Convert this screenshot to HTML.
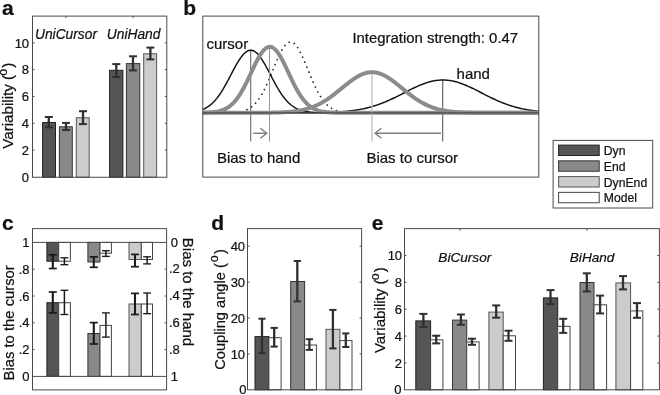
<!DOCTYPE html>
<html><head><meta charset="utf-8"><title>Figure</title>
<style>html,body{margin:0;padding:0;background:#fff;overflow:hidden;}svg{display:block;}text{stroke:#111;stroke-width:0.22px;}</style>
</head><body>
<svg width="660" height="395" viewBox="0 0 660 395" font-family='"Liberation Sans", sans-serif'>
<rect width="660" height="395" fill="#ffffff"/>
<text x="2.00" y="14.60" font-size="21" text-anchor="start" font-weight="bold" font-style="normal" fill="#111" >a</text>
<text x="183.30" y="14.70" font-size="21" text-anchor="start" font-weight="bold" font-style="normal" fill="#111" >b</text>
<text x="2.00" y="230.30" font-size="21" text-anchor="start" font-weight="bold" font-style="normal" fill="#111" >c</text>
<text x="211.20" y="230.30" font-size="21" text-anchor="start" font-weight="bold" font-style="normal" fill="#111" >d</text>
<text x="371.70" y="230.30" font-size="21" text-anchor="start" font-weight="bold" font-style="normal" fill="#111" >e</text>
<rect x="42.60" y="122.50" width="12.90" height="54.75" fill="#555555" stroke="#202020" stroke-width="1.0"/>
<rect x="59.40" y="126.80" width="12.90" height="50.45" fill="#898989" stroke="#343434" stroke-width="1.0"/>
<rect x="76.30" y="117.80" width="12.90" height="59.45" fill="#cccccc" stroke="#555555" stroke-width="1.0"/>
<rect x="109.60" y="70.30" width="13.30" height="106.95" fill="#555555" stroke="#202020" stroke-width="1.0"/>
<rect x="126.40" y="63.60" width="13.40" height="113.65" fill="#898989" stroke="#343434" stroke-width="1.0"/>
<rect x="143.70" y="53.80" width="12.90" height="123.45" fill="#cccccc" stroke="#555555" stroke-width="1.0"/>
<line x1="48.80" y1="117.00" x2="48.80" y2="127.30" stroke="#303030" stroke-width="2.3" />
<line x1="44.80" y1="117.00" x2="52.80" y2="117.00" stroke="#303030" stroke-width="2.001" />
<line x1="44.80" y1="127.30" x2="52.80" y2="127.30" stroke="#303030" stroke-width="2.001" />
<line x1="66.00" y1="122.90" x2="66.00" y2="130.00" stroke="#303030" stroke-width="2.3" />
<line x1="62.00" y1="122.90" x2="70.00" y2="122.90" stroke="#303030" stroke-width="2.001" />
<line x1="62.00" y1="130.00" x2="70.00" y2="130.00" stroke="#303030" stroke-width="2.001" />
<line x1="83.00" y1="111.20" x2="83.00" y2="124.10" stroke="#303030" stroke-width="2.3" />
<line x1="79.00" y1="111.20" x2="87.00" y2="111.20" stroke="#303030" stroke-width="2.001" />
<line x1="79.00" y1="124.10" x2="87.00" y2="124.10" stroke="#303030" stroke-width="2.001" />
<line x1="116.30" y1="64.10" x2="116.30" y2="77.00" stroke="#303030" stroke-width="2.3" />
<line x1="112.30" y1="64.10" x2="120.30" y2="64.10" stroke="#303030" stroke-width="2.001" />
<line x1="112.30" y1="77.00" x2="120.30" y2="77.00" stroke="#303030" stroke-width="2.001" />
<line x1="133.00" y1="56.30" x2="133.00" y2="70.40" stroke="#303030" stroke-width="2.3" />
<line x1="129.00" y1="56.30" x2="137.00" y2="56.30" stroke="#303030" stroke-width="2.001" />
<line x1="129.00" y1="70.40" x2="137.00" y2="70.40" stroke="#303030" stroke-width="2.001" />
<line x1="150.40" y1="47.60" x2="150.40" y2="59.40" stroke="#303030" stroke-width="2.3" />
<line x1="146.40" y1="47.60" x2="154.40" y2="47.60" stroke="#303030" stroke-width="2.001" />
<line x1="146.40" y1="59.40" x2="154.40" y2="59.40" stroke="#303030" stroke-width="2.001" />
<rect x="32.50" y="16.10" width="134.30" height="161.15" fill="none" stroke="#4a4a4a" stroke-width="1"/>
<text x="29.10" y="181.55" font-size="13.0" text-anchor="end" font-weight="normal" font-style="normal" fill="#111" >0</text>
<line x1="32.50" y1="150.05" x2="34.50" y2="150.05" stroke="#4a4a4a" stroke-width="1" />
<line x1="164.80" y1="150.05" x2="166.80" y2="150.05" stroke="#4a4a4a" stroke-width="1" />
<text x="29.10" y="154.75" font-size="13.0" text-anchor="end" font-weight="normal" font-style="normal" fill="#111" >2</text>
<line x1="32.50" y1="123.25" x2="34.50" y2="123.25" stroke="#4a4a4a" stroke-width="1" />
<line x1="164.80" y1="123.25" x2="166.80" y2="123.25" stroke="#4a4a4a" stroke-width="1" />
<text x="29.10" y="127.95" font-size="13.0" text-anchor="end" font-weight="normal" font-style="normal" fill="#111" >4</text>
<line x1="32.50" y1="96.45" x2="34.50" y2="96.45" stroke="#4a4a4a" stroke-width="1" />
<line x1="164.80" y1="96.45" x2="166.80" y2="96.45" stroke="#4a4a4a" stroke-width="1" />
<text x="29.10" y="101.15" font-size="13.0" text-anchor="end" font-weight="normal" font-style="normal" fill="#111" >6</text>
<line x1="32.50" y1="69.65" x2="34.50" y2="69.65" stroke="#4a4a4a" stroke-width="1" />
<line x1="164.80" y1="69.65" x2="166.80" y2="69.65" stroke="#4a4a4a" stroke-width="1" />
<text x="29.10" y="74.35" font-size="13.0" text-anchor="end" font-weight="normal" font-style="normal" fill="#111" >8</text>
<line x1="32.50" y1="42.85" x2="34.50" y2="42.85" stroke="#4a4a4a" stroke-width="1" />
<line x1="164.80" y1="42.85" x2="166.80" y2="42.85" stroke="#4a4a4a" stroke-width="1" />
<text x="29.10" y="47.55" font-size="13.0" text-anchor="end" font-weight="normal" font-style="normal" fill="#111" >10</text>
<line x1="65.90" y1="16.10" x2="65.90" y2="18.10" stroke="#4a4a4a" stroke-width="1" />
<line x1="133.10" y1="16.10" x2="133.10" y2="18.10" stroke="#4a4a4a" stroke-width="1" />
<text x="66.00" y="38.50" font-size="13.8" text-anchor="middle" font-weight="normal" font-style="italic" fill="#111" >UniCursor</text>
<text x="133.60" y="38.50" font-size="13.8" text-anchor="middle" font-weight="normal" font-style="italic" fill="#111" >UniHand</text>
<text x="13.40" y="148.70" font-size="15.15" text-anchor="start" fill="#111" transform="rotate(-90 13.40 148.70)">Variability (<tspan font-size="12.5" dy="-6.6" dx="-0.8">o</tspan><tspan dy="6.6" dx="1.0">)</tspan></text>
<line x1="250.70" y1="50.20" x2="250.70" y2="141.60" stroke="#6a6a6a" stroke-width="1.1" />
<line x1="442.70" y1="80.00" x2="442.70" y2="141.60" stroke="#5a5a5a" stroke-width="1.1" />
<polyline points="247.0,109.58 247.5,109.34 248.0,109.09 248.5,108.83 249.0,108.55 249.5,108.25 250.0,107.94 250.5,107.61 251.0,107.26 251.5,106.89 252.0,106.50 252.5,106.10 253.0,105.67 253.5,105.23 254.0,104.76 254.5,104.27 255.0,103.75 255.5,103.22 256.0,102.66 256.5,102.08 257.0,101.47 257.5,100.84 258.0,100.18 258.5,99.50 259.0,98.79 259.5,98.06 260.0,97.30 260.5,96.51 261.0,95.70 261.5,94.86 262.0,94.00 262.5,93.11 263.0,92.20 263.5,91.27 264.0,90.30 264.5,89.32 265.0,88.31 265.5,87.28 266.0,86.23 266.5,85.15 267.0,84.06 267.5,82.95 268.0,81.82 268.5,80.67 269.0,79.51 269.5,78.34 270.0,77.15 270.5,75.95 271.0,74.74 271.5,73.53 272.0,72.31 272.5,71.08 273.0,69.86 273.5,68.63 274.0,67.41 274.5,66.19 275.0,64.97 275.5,63.77 276.0,62.57 276.5,61.39 277.0,60.22 277.5,59.07 278.0,57.94 278.5,56.83 279.0,55.75 279.5,54.69 280.0,53.66 280.5,52.66 281.0,51.70 281.5,50.77 282.0,49.88 282.5,49.02 283.0,48.21 283.5,47.44 284.0,46.72 284.5,46.04 285.0,45.41 285.5,44.83 286.0,44.30 286.5,43.83 287.0,43.40 287.5,43.03 288.0,42.72 288.5,42.46 289.0,42.26 289.5,42.12 290.0,42.03 290.5,42.00 291.0,42.03 291.5,42.12 292.0,42.26 292.5,42.46 293.0,42.72 293.5,43.03 294.0,43.40 294.5,43.83 295.0,44.30 295.5,44.83 296.0,45.41 296.5,46.04 297.0,46.72 297.5,47.44 298.0,48.21 298.5,49.02 299.0,49.88 299.5,50.77 300.0,51.70 300.5,52.66 301.0,53.66 301.5,54.69 302.0,55.75 302.5,56.83 303.0,57.94 303.5,59.07 304.0,60.22 304.5,61.39 305.0,62.57 305.5,63.77 306.0,64.97 306.5,66.19 307.0,67.41 307.5,68.63 308.0,69.86 308.5,71.08 309.0,72.31 309.5,73.53 310.0,74.74 310.5,75.95 311.0,77.15 311.5,78.34 312.0,79.51 312.5,80.67 313.0,81.82 313.5,82.95 314.0,84.06 314.5,85.15 315.0,86.23 315.5,87.28 316.0,88.31 316.5,89.32 317.0,90.30 317.5,91.27 318.0,92.20 318.5,93.11 319.0,94.00 319.5,94.86 320.0,95.70 320.5,96.51 321.0,97.30 321.5,98.06 322.0,98.79 322.5,99.50 323.0,100.18 323.5,100.84 324.0,101.47 324.5,102.08 325.0,102.66 325.5,103.22 326.0,103.75 326.5,104.27 327.0,104.76 327.5,105.23 328.0,105.67 328.5,106.10 329.0,106.50 329.5,106.89 330.0,107.26 330.5,107.61 331.0,107.94 331.5,108.25 332.0,108.55 332.5,108.83 333.0,109.09 333.5,109.34 334.0,109.58 334.5,109.80 335.0,110.01 335.5,110.20 336.0,110.39 336.5,110.56 337.0,110.73 337.5,110.88 338.0,111.02" fill="none" stroke="#222" stroke-width="1.7" stroke-linecap="round" stroke-dasharray="0.01 5.4"/>
<polyline points="202.8,109.44 203.8,109.01 204.8,108.54 205.8,108.01 206.8,107.44 207.8,106.81 208.8,106.13 209.8,105.39 210.8,104.58 211.8,103.71 212.8,102.78 213.8,101.77 214.8,100.70 215.8,99.56 216.8,98.34 217.8,97.06 218.8,95.70 219.8,94.28 220.8,92.78 221.8,91.22 222.8,89.60 223.8,87.92 224.8,86.19 225.8,84.41 226.8,82.59 227.8,80.73 228.8,78.84 229.8,76.94 230.8,75.02 231.8,73.11 232.8,71.20 233.8,69.31 234.8,67.45 235.8,65.64 236.8,63.87 237.8,62.17 238.8,60.54 239.8,59.00 240.8,57.56 241.8,56.22 242.8,54.99 243.8,53.89 244.8,52.92 245.8,52.09 246.8,51.40 247.8,50.87 248.8,50.49 249.8,50.26 250.8,50.20 251.8,50.30 252.8,50.55 253.8,50.96 254.8,51.53 255.8,52.24 256.8,53.10 257.8,54.10 258.8,55.23 259.8,56.47 260.8,57.84 261.8,59.30 262.8,60.86 263.8,62.51 264.8,64.22 265.8,66.00 266.8,67.82 267.8,69.69 268.8,71.58 269.8,73.49 270.8,75.41 271.8,77.32 272.8,79.22 273.8,81.10 274.8,82.96 275.8,84.77 276.8,86.54 277.8,88.26 278.8,89.93 279.8,91.54 280.8,93.09 281.8,94.57 282.8,95.98 283.8,97.32 284.8,98.59 285.8,99.79 286.8,100.92 287.8,101.98 288.8,102.97 289.8,103.89 290.8,104.75 291.8,105.54 292.8,106.27 293.8,106.94 294.8,107.56 295.8,108.12 296.8,108.64 297.8,109.10 298.8,109.53 299.8,109.91 300.8,110.25 301.8,110.56 302.8,110.84 303.8,111.08 304.8,111.30 305.8,111.50 306.8,111.67 307.8,111.82 308.8,111.96 309.8,112.07 310.8,112.17 311.8,112.26 312.8,112.34 313.8,112.41 314.8,112.47 315.8,112.52 316.8,112.56 317.8,112.60 318.8,112.63 319.8,112.66 320.8,112.68 321.8,112.70 322.8,112.72 323.8,112.73 324.8,112.74 325.8,112.75 326.8,112.76 327.8,112.77 328.8,112.77 329.8,112.78 330.8,112.78 331.8,112.79 332.8,112.79 333.8,112.79 334.8,112.79 335.8,112.79 336.8,112.80 337.8,112.80 338.8,112.80 339.8,112.80 340.8,112.80 341.8,112.80 342.8,112.80 343.8,112.80 344.8,112.80 345.8,112.80 346.8,112.80 347.8,112.80 348.8,112.80 349.8,112.80 350.8,112.80 351.8,112.80 352.8,112.80 353.8,112.80 354.8,112.80 355.8,112.80 356.8,112.80 357.8,112.80 358.8,112.80 359.8,112.80 360.8,112.80 361.8,112.80 362.8,112.80 363.8,112.80 364.8,112.80 365.8,112.80 366.8,112.80 367.8,112.80 368.8,112.80 369.8,112.80 370.8,112.80 371.8,112.80 372.8,112.80 373.8,112.80 374.8,112.80 375.8,112.80 376.8,112.80 377.8,112.80 378.8,112.80 379.8,112.80 380.8,112.80 381.8,112.80 382.8,112.80 383.8,112.80 384.8,112.80 385.8,112.80 386.8,112.80 387.8,112.80 388.8,112.80 389.8,112.80 390.8,112.80 391.8,112.80 392.8,112.80 393.8,112.80 394.8,112.80 395.8,112.80 396.8,112.80 397.8,112.80 398.8,112.80 399.8,112.80 400.8,112.80 401.8,112.80 402.8,112.80 403.8,112.80 404.8,112.80 405.8,112.80 406.8,112.80 407.8,112.80 408.8,112.80 409.8,112.80 410.8,112.80 411.8,112.80 412.8,112.80 413.8,112.80 414.8,112.80 415.8,112.80 416.8,112.80 417.8,112.80 418.8,112.80 419.8,112.80 420.8,112.80 421.8,112.80 422.8,112.80 423.8,112.80 424.8,112.80 425.8,112.80 426.8,112.80 427.8,112.80 428.8,112.80 429.8,112.80 430.8,112.80 431.8,112.80 432.8,112.80 433.8,112.80 434.8,112.80 435.8,112.80 436.8,112.80 437.8,112.80 438.8,112.80 439.8,112.80 440.8,112.80 441.8,112.80 442.8,112.80 443.8,112.80 444.8,112.80 445.8,112.80 446.8,112.80 447.8,112.80 448.8,112.80 449.8,112.80 450.8,112.80 451.8,112.80 452.8,112.80 453.8,112.80 454.8,112.80 455.8,112.80 456.8,112.80 457.8,112.80 458.8,112.80 459.8,112.80 460.8,112.80 461.8,112.80 462.8,112.80 463.8,112.80 464.8,112.80 465.8,112.80 466.8,112.80 467.8,112.80 468.8,112.80 469.8,112.80 470.8,112.80 471.8,112.80 472.8,112.80 473.8,112.80 474.8,112.80 475.8,112.80 476.8,112.80 477.8,112.80 478.8,112.80 479.8,112.80 480.8,112.80 481.8,112.80 482.8,112.80 483.8,112.80 484.8,112.80 485.8,112.80 486.8,112.80 487.8,112.80 488.8,112.80 489.8,112.80 490.8,112.80 491.8,112.80 492.8,112.80 493.8,112.80 494.8,112.80 495.8,112.80 496.8,112.80 497.8,112.80 498.8,112.80 499.8,112.80 500.8,112.80 501.8,112.80 502.8,112.80 503.8,112.80 504.8,112.80 505.8,112.80 506.8,112.80 507.8,112.80 508.8,112.80 509.8,112.80 510.8,112.80 511.8,112.80 512.8,112.80 513.8,112.80 514.8,112.80 515.8,112.80 516.8,112.80 517.8,112.80 518.8,112.80 519.8,112.80 520.8,112.80 521.8,112.80 522.8,112.80 523.8,112.80 524.8,112.80 525.8,112.80 526.8,112.80 527.8,112.80 528.8,112.80 529.8,112.80 530.8,112.80 531.8,112.80 532.8,112.80 533.8,112.80 534.8,112.80 535.8,112.80 536.8,112.80 537.8,112.80 538.8,112.80" fill="none" stroke="#111" stroke-width="1.45"/>
<polyline points="202.8,112.80 203.8,112.80 204.8,112.80 205.8,112.80 206.8,112.80 207.8,112.80 208.8,112.80 209.8,112.80 210.8,112.80 211.8,112.80 212.8,112.80 213.8,112.80 214.8,112.80 215.8,112.80 216.8,112.80 217.8,112.80 218.8,112.80 219.8,112.80 220.8,112.80 221.8,112.80 222.8,112.80 223.8,112.80 224.8,112.80 225.8,112.80 226.8,112.80 227.8,112.80 228.8,112.80 229.8,112.80 230.8,112.80 231.8,112.80 232.8,112.80 233.8,112.80 234.8,112.80 235.8,112.80 236.8,112.80 237.8,112.80 238.8,112.80 239.8,112.80 240.8,112.80 241.8,112.80 242.8,112.80 243.8,112.80 244.8,112.80 245.8,112.80 246.8,112.80 247.8,112.80 248.8,112.80 249.8,112.80 250.8,112.80 251.8,112.80 252.8,112.80 253.8,112.80 254.8,112.80 255.8,112.80 256.8,112.80 257.8,112.80 258.8,112.80 259.8,112.80 260.8,112.80 261.8,112.80 262.8,112.80 263.8,112.80 264.8,112.80 265.8,112.80 266.8,112.80 267.8,112.80 268.8,112.80 269.8,112.80 270.8,112.80 271.8,112.80 272.8,112.80 273.8,112.80 274.8,112.80 275.8,112.80 276.8,112.80 277.8,112.80 278.8,112.80 279.8,112.80 280.8,112.79 281.8,112.79 282.8,112.79 283.8,112.79 284.8,112.79 285.8,112.79 286.8,112.79 287.8,112.79 288.8,112.79 289.8,112.79 290.8,112.78 291.8,112.78 292.8,112.78 293.8,112.78 294.8,112.78 295.8,112.77 296.8,112.77 297.8,112.77 298.8,112.77 299.8,112.76 300.8,112.76 301.8,112.76 302.8,112.75 303.8,112.75 304.8,112.74 305.8,112.74 306.8,112.73 307.8,112.72 308.8,112.72 309.8,112.71 310.8,112.70 311.8,112.69 312.8,112.68 313.8,112.67 314.8,112.66 315.8,112.65 316.8,112.63 317.8,112.62 318.8,112.60 319.8,112.58 320.8,112.57 321.8,112.55 322.8,112.53 323.8,112.50 324.8,112.48 325.8,112.45 326.8,112.42 327.8,112.39 328.8,112.36 329.8,112.33 330.8,112.29 331.8,112.25 332.8,112.21 333.8,112.17 334.8,112.12 335.8,112.07 336.8,112.01 337.8,111.96 338.8,111.90 339.8,111.83 340.8,111.76 341.8,111.69 342.8,111.62 343.8,111.53 344.8,111.45 345.8,111.36 346.8,111.26 347.8,111.16 348.8,111.06 349.8,110.95 350.8,110.83 351.8,110.70 352.8,110.57 353.8,110.44 354.8,110.29 355.8,110.14 356.8,109.99 357.8,109.82 358.8,109.65 359.8,109.47 360.8,109.28 361.8,109.09 362.8,108.89 363.8,108.67 364.8,108.45 365.8,108.22 366.8,107.98 367.8,107.74 368.8,107.48 369.8,107.21 370.8,106.94 371.8,106.65 372.8,106.36 373.8,106.05 374.8,105.74 375.8,105.41 376.8,105.08 377.8,104.74 378.8,104.38 379.8,104.02 380.8,103.65 381.8,103.27 382.8,102.88 383.8,102.48 384.8,102.07 385.8,101.65 386.8,101.22 387.8,100.79 388.8,100.35 389.8,99.90 390.8,99.44 391.8,98.97 392.8,98.50 393.8,98.02 394.8,97.54 395.8,97.05 396.8,96.56 397.8,96.06 398.8,95.56 399.8,95.05 400.8,94.54 401.8,94.03 402.8,93.52 403.8,93.01 404.8,92.50 405.8,91.98 406.8,91.47 407.8,90.96 408.8,90.46 409.8,89.95 410.8,89.46 411.8,88.96 412.8,88.47 413.8,87.99 414.8,87.52 415.8,87.05 416.8,86.60 417.8,86.15 418.8,85.71 419.8,85.28 420.8,84.87 421.8,84.47 422.8,84.08 423.8,83.71 424.8,83.35 425.8,83.00 426.8,82.67 427.8,82.36 428.8,82.07 429.8,81.79 430.8,81.53 431.8,81.29 432.8,81.07 433.8,80.87 434.8,80.69 435.8,80.53 436.8,80.39 437.8,80.27 438.8,80.17 439.8,80.10 440.8,80.04 441.8,80.01 442.8,80.00 443.8,80.01 444.8,80.04 445.8,80.10 446.8,80.17 447.8,80.27 448.8,80.39 449.8,80.53 450.8,80.69 451.8,80.87 452.8,81.07 453.8,81.29 454.8,81.53 455.8,81.79 456.8,82.07 457.8,82.36 458.8,82.67 459.8,83.00 460.8,83.35 461.8,83.71 462.8,84.08 463.8,84.47 464.8,84.87 465.8,85.28 466.8,85.71 467.8,86.15 468.8,86.60 469.8,87.05 470.8,87.52 471.8,87.99 472.8,88.47 473.8,88.96 474.8,89.46 475.8,89.95 476.8,90.46 477.8,90.96 478.8,91.47 479.8,91.98 480.8,92.50 481.8,93.01 482.8,93.52 483.8,94.03 484.8,94.54 485.8,95.05 486.8,95.56 487.8,96.06 488.8,96.56 489.8,97.05 490.8,97.54 491.8,98.02 492.8,98.50 493.8,98.97 494.8,99.44 495.8,99.90 496.8,100.35 497.8,100.79 498.8,101.22 499.8,101.65 500.8,102.07 501.8,102.48 502.8,102.88 503.8,103.27 504.8,103.65 505.8,104.02 506.8,104.38 507.8,104.74 508.8,105.08 509.8,105.41 510.8,105.74 511.8,106.05 512.8,106.36 513.8,106.65 514.8,106.94 515.8,107.21 516.8,107.48 517.8,107.74 518.8,107.98 519.8,108.22 520.8,108.45 521.8,108.67 522.8,108.89 523.8,109.09 524.8,109.28 525.8,109.47 526.8,109.65 527.8,109.82 528.8,109.99 529.8,110.14 530.8,110.29 531.8,110.44 532.8,110.57 533.8,110.70 534.8,110.83 535.8,110.95 536.8,111.06 537.8,111.16 538.8,111.26" fill="none" stroke="#111" stroke-width="1.45"/>
<polyline points="202.8,112.69 203.8,112.67 204.8,112.64 205.8,112.61 206.8,112.57 207.8,112.53 208.8,112.48 209.8,112.42 210.8,112.35 211.8,112.26 212.8,112.17 213.8,112.05 214.8,111.93 215.8,111.78 216.8,111.61 217.8,111.42 218.8,111.20 219.8,110.95 220.8,110.67 221.8,110.35 222.8,110.00 223.8,109.60 224.8,109.15 225.8,108.66 226.8,108.11 227.8,107.50 228.8,106.83 229.8,106.10 230.8,105.30 231.8,104.43 232.8,103.48 233.8,102.45 234.8,101.35 235.8,100.16 236.8,98.89 237.8,97.54 238.8,96.10 239.8,94.57 240.8,92.97 241.8,91.29 242.8,89.53 243.8,87.69 244.8,85.80 245.8,83.84 246.8,81.82 247.8,79.76 248.8,77.67 249.8,75.55 250.8,73.41 251.8,71.27 252.8,69.14 253.8,67.03 254.8,64.96 255.8,62.93 256.8,60.97 257.8,59.08 258.8,57.29 259.8,55.59 260.8,54.02 261.8,52.57 262.8,51.27 263.8,50.11 264.8,49.12 265.8,48.29 266.8,47.64 267.8,47.18 268.8,46.89 269.8,46.80 270.8,46.89 271.8,47.18 272.8,47.64 273.8,48.29 274.8,49.12 275.8,50.11 276.8,51.27 277.8,52.57 278.8,54.02 279.8,55.59 280.8,57.29 281.8,59.08 282.8,60.97 283.8,62.93 284.8,64.96 285.8,67.03 286.8,69.14 287.8,71.27 288.8,73.41 289.8,75.55 290.8,77.67 291.8,79.76 292.8,81.82 293.8,83.84 294.8,85.80 295.8,87.69 296.8,89.53 297.8,91.29 298.8,92.97 299.8,94.57 300.8,96.10 301.8,97.54 302.8,98.89 303.8,100.16 304.8,101.35 305.8,102.45 306.8,103.48 307.8,104.43 308.8,105.30 309.8,106.10 310.8,106.83 311.8,107.50 312.8,108.11 313.8,108.66 314.8,109.15 315.8,109.60 316.8,110.00 317.8,110.35 318.8,110.67 319.8,110.95 320.8,111.20 321.8,111.42 322.8,111.61 323.8,111.78 324.8,111.93 325.8,112.05 326.8,112.17 327.8,112.26 328.8,112.35 329.8,112.42 330.8,112.48 331.8,112.53 332.8,112.57 333.8,112.61 334.8,112.64 335.8,112.67 336.8,112.69 337.8,112.71 338.8,112.73 339.8,112.74 340.8,112.75 341.8,112.76 342.8,112.77 343.8,112.77 344.8,112.78 345.8,112.78 346.8,112.79 347.8,112.79 348.8,112.79 349.8,112.79 350.8,112.79 351.8,112.80 352.8,112.80 353.8,112.80 354.8,112.80 355.8,112.80 356.8,112.80 357.8,112.80 358.8,112.80 359.8,112.80 360.8,112.80 361.8,112.80 362.8,112.80 363.8,112.80 364.8,112.80 365.8,112.80 366.8,112.80 367.8,112.80 368.8,112.80 369.8,112.80 370.8,112.80 371.8,112.80 372.8,112.80 373.8,112.80 374.8,112.80 375.8,112.80 376.8,112.80 377.8,112.80 378.8,112.80 379.8,112.80 380.8,112.80 381.8,112.80 382.8,112.80 383.8,112.80 384.8,112.80 385.8,112.80 386.8,112.80 387.8,112.80 388.8,112.80 389.8,112.80 390.8,112.80 391.8,112.80 392.8,112.80 393.8,112.80 394.8,112.80 395.8,112.80 396.8,112.80 397.8,112.80 398.8,112.80 399.8,112.80 400.8,112.80 401.8,112.80 402.8,112.80 403.8,112.80 404.8,112.80 405.8,112.80 406.8,112.80 407.8,112.80 408.8,112.80 409.8,112.80 410.8,112.80 411.8,112.80 412.8,112.80 413.8,112.80 414.8,112.80 415.8,112.80 416.8,112.80 417.8,112.80 418.8,112.80 419.8,112.80 420.8,112.80 421.8,112.80 422.8,112.80 423.8,112.80 424.8,112.80 425.8,112.80 426.8,112.80 427.8,112.80 428.8,112.80 429.8,112.80 430.8,112.80 431.8,112.80 432.8,112.80 433.8,112.80 434.8,112.80 435.8,112.80 436.8,112.80 437.8,112.80 438.8,112.80 439.8,112.80 440.8,112.80 441.8,112.80 442.8,112.80 443.8,112.80 444.8,112.80 445.8,112.80 446.8,112.80 447.8,112.80 448.8,112.80 449.8,112.80 450.8,112.80 451.8,112.80 452.8,112.80 453.8,112.80 454.8,112.80 455.8,112.80 456.8,112.80 457.8,112.80 458.8,112.80 459.8,112.80 460.8,112.80 461.8,112.80 462.8,112.80 463.8,112.80 464.8,112.80 465.8,112.80 466.8,112.80 467.8,112.80 468.8,112.80 469.8,112.80 470.8,112.80 471.8,112.80 472.8,112.80 473.8,112.80 474.8,112.80 475.8,112.80 476.8,112.80 477.8,112.80 478.8,112.80 479.8,112.80 480.8,112.80 481.8,112.80 482.8,112.80 483.8,112.80 484.8,112.80 485.8,112.80 486.8,112.80 487.8,112.80 488.8,112.80 489.8,112.80 490.8,112.80 491.8,112.80 492.8,112.80 493.8,112.80 494.8,112.80 495.8,112.80 496.8,112.80 497.8,112.80 498.8,112.80 499.8,112.80 500.8,112.80 501.8,112.80 502.8,112.80 503.8,112.80 504.8,112.80 505.8,112.80 506.8,112.80 507.8,112.80 508.8,112.80 509.8,112.80 510.8,112.80 511.8,112.80 512.8,112.80 513.8,112.80 514.8,112.80 515.8,112.80 516.8,112.80 517.8,112.80 518.8,112.80 519.8,112.80 520.8,112.80 521.8,112.80 522.8,112.80 523.8,112.80 524.8,112.80 525.8,112.80 526.8,112.80 527.8,112.80 528.8,112.80 529.8,112.80 530.8,112.80 531.8,112.80 532.8,112.80 533.8,112.80 534.8,112.80 535.8,112.80 536.8,112.80 537.8,112.80 538.8,112.80" fill="none" stroke="#8c8c8c" stroke-width="4"/>
<polyline points="202.8,112.80 203.8,112.80 204.8,112.80 205.8,112.80 206.8,112.80 207.8,112.80 208.8,112.80 209.8,112.80 210.8,112.80 211.8,112.80 212.8,112.80 213.8,112.80 214.8,112.80 215.8,112.80 216.8,112.80 217.8,112.80 218.8,112.80 219.8,112.80 220.8,112.80 221.8,112.80 222.8,112.80 223.8,112.80 224.8,112.80 225.8,112.80 226.8,112.80 227.8,112.80 228.8,112.80 229.8,112.80 230.8,112.80 231.8,112.80 232.8,112.80 233.8,112.80 234.8,112.80 235.8,112.80 236.8,112.80 237.8,112.80 238.8,112.80 239.8,112.80 240.8,112.80 241.8,112.80 242.8,112.80 243.8,112.80 244.8,112.79 245.8,112.79 246.8,112.79 247.8,112.79 248.8,112.79 249.8,112.79 250.8,112.79 251.8,112.79 252.8,112.78 253.8,112.78 254.8,112.78 255.8,112.78 256.8,112.77 257.8,112.77 258.8,112.77 259.8,112.76 260.8,112.76 261.8,112.75 262.8,112.74 263.8,112.74 264.8,112.73 265.8,112.72 266.8,112.71 267.8,112.70 268.8,112.68 269.8,112.67 270.8,112.66 271.8,112.64 272.8,112.62 273.8,112.60 274.8,112.58 275.8,112.55 276.8,112.52 277.8,112.49 278.8,112.46 279.8,112.42 280.8,112.38 281.8,112.34 282.8,112.29 283.8,112.24 284.8,112.18 285.8,112.12 286.8,112.05 287.8,111.98 288.8,111.90 289.8,111.82 290.8,111.72 291.8,111.62 292.8,111.51 293.8,111.40 294.8,111.27 295.8,111.14 296.8,110.99 297.8,110.84 298.8,110.67 299.8,110.50 300.8,110.31 301.8,110.10 302.8,109.89 303.8,109.66 304.8,109.42 305.8,109.16 306.8,108.88 307.8,108.60 308.8,108.29 309.8,107.97 310.8,107.63 311.8,107.27 312.8,106.89 313.8,106.50 314.8,106.08 315.8,105.65 316.8,105.20 317.8,104.73 318.8,104.23 319.8,103.72 320.8,103.19 321.8,102.64 322.8,102.07 323.8,101.48 324.8,100.86 325.8,100.23 326.8,99.59 327.8,98.92 328.8,98.24 329.8,97.53 330.8,96.82 331.8,96.08 332.8,95.34 333.8,94.58 334.8,93.81 335.8,93.02 336.8,92.23 337.8,91.43 338.8,90.62 339.8,89.81 340.8,88.99 341.8,88.17 342.8,87.36 343.8,86.54 344.8,85.73 345.8,84.92 346.8,84.12 347.8,83.33 348.8,82.56 349.8,81.79 350.8,81.04 351.8,80.31 352.8,79.60 353.8,78.92 354.8,78.25 355.8,77.61 356.8,77.00 357.8,76.42 358.8,75.87 359.8,75.35 360.8,74.87 361.8,74.42 362.8,74.01 363.8,73.64 364.8,73.31 365.8,73.03 366.8,72.78 367.8,72.57 368.8,72.41 369.8,72.30 370.8,72.23 371.8,72.20 372.8,72.22 373.8,72.28 374.8,72.39 375.8,72.54 376.8,72.73 377.8,72.97 378.8,73.25 379.8,73.57 380.8,73.94 381.8,74.34 382.8,74.78 383.8,75.25 384.8,75.76 385.8,76.31 386.8,76.88 387.8,77.49 388.8,78.12 389.8,78.78 390.8,79.46 391.8,80.17 392.8,80.90 393.8,81.64 394.8,82.40 395.8,83.18 396.8,83.96 397.8,84.76 398.8,85.57 399.8,86.38 400.8,87.19 401.8,88.01 402.8,88.83 403.8,89.65 404.8,90.46 405.8,91.27 406.8,92.07 407.8,92.86 408.8,93.65 409.8,94.42 410.8,95.19 411.8,95.94 412.8,96.67 413.8,97.39 414.8,98.10 415.8,98.78 416.8,99.45 417.8,100.11 418.8,100.74 419.8,101.36 420.8,101.95 421.8,102.53 422.8,103.08 423.8,103.62 424.8,104.13 425.8,104.63 426.8,105.11 427.8,105.56 428.8,106.00 429.8,106.42 430.8,106.82 431.8,107.20 432.8,107.56 433.8,107.90 434.8,108.23 435.8,108.54 436.8,108.83 437.8,109.10 438.8,109.37 439.8,109.61 440.8,109.84 441.8,110.06 442.8,110.27 443.8,110.46 444.8,110.64 445.8,110.81 446.8,110.96 447.8,111.11 448.8,111.25 449.8,111.37 450.8,111.49 451.8,111.60 452.8,111.70 453.8,111.80 454.8,111.89 455.8,111.97 456.8,112.04 457.8,112.11 458.8,112.17 459.8,112.23 460.8,112.28 461.8,112.33 462.8,112.38 463.8,112.42 464.8,112.45 465.8,112.49 466.8,112.52 467.8,112.55 468.8,112.57 469.8,112.60 470.8,112.62 471.8,112.64 472.8,112.65 473.8,112.67 474.8,112.68 475.8,112.69 476.8,112.71 477.8,112.72 478.8,112.73 479.8,112.73 480.8,112.74 481.8,112.75 482.8,112.75 483.8,112.76 484.8,112.76 485.8,112.77 486.8,112.77 487.8,112.78 488.8,112.78 489.8,112.78 490.8,112.78 491.8,112.79 492.8,112.79 493.8,112.79 494.8,112.79 495.8,112.79 496.8,112.79 497.8,112.79 498.8,112.79 499.8,112.80 500.8,112.80 501.8,112.80 502.8,112.80 503.8,112.80 504.8,112.80 505.8,112.80 506.8,112.80 507.8,112.80 508.8,112.80 509.8,112.80 510.8,112.80 511.8,112.80 512.8,112.80 513.8,112.80 514.8,112.80 515.8,112.80 516.8,112.80 517.8,112.80 518.8,112.80 519.8,112.80 520.8,112.80 521.8,112.80 522.8,112.80 523.8,112.80 524.8,112.80 525.8,112.80 526.8,112.80 527.8,112.80 528.8,112.80 529.8,112.80 530.8,112.80 531.8,112.80 532.8,112.80 533.8,112.80 534.8,112.80 535.8,112.80 536.8,112.80 537.8,112.80 538.8,112.80" fill="none" stroke="#8c8c8c" stroke-width="4"/>
<line x1="269.50" y1="48.90" x2="269.50" y2="141.60" stroke="#959595" stroke-width="1" />
<line x1="371.90" y1="74.30" x2="371.90" y2="141.60" stroke="#bcbcbc" stroke-width="1.3" />
<line x1="202.80" y1="112.80" x2="538.80" y2="112.80" stroke="#4a4a4a" stroke-width="1.2" />
<rect x="202.80" y="16.10" width="336.00" height="161.00" fill="none" stroke="#4a4a4a" stroke-width="1"/>
<line x1="253.00" y1="133.25" x2="266.60" y2="133.25" stroke="#7c7c7c" stroke-width="1.4" />
<polyline points="260.3,128.2 266.8,133.25 260.3,138.3" fill="none" stroke="#7c7c7c" stroke-width="1.4"/>
<line x1="375.40" y1="133.25" x2="441.00" y2="133.25" stroke="#7c7c7c" stroke-width="1.4" />
<polyline points="381.4,128.2 375.1,133.25 381.4,138.3" fill="none" stroke="#7c7c7c" stroke-width="1.4"/>
<text x="206.50" y="49.00" font-size="15.0" text-anchor="start" font-weight="normal" font-style="normal" fill="#111" >cursor</text>
<text x="352.40" y="42.70" font-size="14.92" text-anchor="start" font-weight="normal" font-style="normal" fill="#111" >Integration strength: 0.47</text>
<text x="456.60" y="79.30" font-size="15.0" text-anchor="start" font-weight="normal" font-style="normal" fill="#111" >hand</text>
<text x="216.90" y="162.90" font-size="15.0" text-anchor="start" font-weight="normal" font-style="normal" fill="#111" >Bias to hand</text>
<text x="366.40" y="162.90" font-size="15.0" text-anchor="start" font-weight="normal" font-style="normal" fill="#111" >Bias to cursor</text>
<rect x="553.10" y="140.40" width="99.60" height="67.60" fill="none" stroke="#4a4a4a" stroke-width="1"/>
<rect x="558.60" y="145.10" width="40.60" height="10.40" fill="#555555" stroke="#202020" stroke-width="1.0"/>
<text x="603.80" y="155.20" font-size="12.2" text-anchor="start" font-weight="normal" font-style="normal" fill="#111" >Dyn</text>
<rect x="558.60" y="160.85" width="40.60" height="10.40" fill="#898989" stroke="#343434" stroke-width="1.0"/>
<text x="603.80" y="170.95" font-size="12.2" text-anchor="start" font-weight="normal" font-style="normal" fill="#111" >End</text>
<rect x="558.60" y="176.60" width="40.60" height="10.40" fill="#cccccc" stroke="#555555" stroke-width="1.0"/>
<text x="603.80" y="186.70" font-size="12.2" text-anchor="start" font-weight="normal" font-style="normal" fill="#111" >DynEnd</text>
<rect x="558.60" y="192.35" width="40.60" height="10.40" fill="#ffffff" stroke="#444444" stroke-width="1.0"/>
<text x="603.80" y="202.45" font-size="12.2" text-anchor="start" font-weight="normal" font-style="normal" fill="#111" >Model</text>
<rect x="46.90" y="242.40" width="11.80" height="18.80" fill="#555555" stroke="#202020" stroke-width="1.0"/>
<rect x="58.70" y="242.40" width="11.70" height="18.80" fill="#ffffff" stroke="#444444" stroke-width="1.0"/>
<rect x="87.90" y="242.40" width="12.10" height="19.60" fill="#898989" stroke="#343434" stroke-width="1.0"/>
<rect x="100.00" y="242.40" width="11.40" height="10.80" fill="#ffffff" stroke="#444444" stroke-width="1.0"/>
<rect x="129.00" y="242.40" width="12.30" height="17.10" fill="#cccccc" stroke="#555555" stroke-width="1.0"/>
<rect x="141.30" y="242.40" width="11.20" height="17.10" fill="#ffffff" stroke="#444444" stroke-width="1.0"/>
<rect x="46.90" y="302.70" width="11.80" height="73.70" fill="#555555" stroke="#202020" stroke-width="1.0"/>
<rect x="58.70" y="302.70" width="11.70" height="73.70" fill="#ffffff" stroke="#444444" stroke-width="1.0"/>
<rect x="87.90" y="333.50" width="12.10" height="42.90" fill="#898989" stroke="#343434" stroke-width="1.0"/>
<rect x="100.00" y="325.40" width="11.40" height="51.00" fill="#ffffff" stroke="#444444" stroke-width="1.0"/>
<rect x="129.00" y="304.00" width="12.30" height="72.40" fill="#cccccc" stroke="#555555" stroke-width="1.0"/>
<rect x="141.30" y="304.00" width="11.20" height="72.40" fill="#ffffff" stroke="#444444" stroke-width="1.0"/>
<line x1="52.80" y1="254.80" x2="52.80" y2="268.50" stroke="#1a1a1a" stroke-width="2.1" />
<line x1="48.80" y1="254.80" x2="56.80" y2="254.80" stroke="#1a1a1a" stroke-width="1.7" />
<line x1="48.80" y1="268.50" x2="56.80" y2="268.50" stroke="#1a1a1a" stroke-width="1.7" />
<line x1="64.40" y1="257.80" x2="64.40" y2="264.70" stroke="#1a1a1a" stroke-width="1.5" />
<line x1="60.50" y1="257.80" x2="68.30" y2="257.80" stroke="#1a1a1a" stroke-width="1.35" />
<line x1="60.50" y1="264.70" x2="68.30" y2="264.70" stroke="#1a1a1a" stroke-width="1.35" />
<line x1="93.80" y1="256.80" x2="93.80" y2="267.30" stroke="#1a1a1a" stroke-width="2.1" />
<line x1="89.80" y1="256.80" x2="97.80" y2="256.80" stroke="#1a1a1a" stroke-width="1.7" />
<line x1="89.80" y1="267.30" x2="97.80" y2="267.30" stroke="#1a1a1a" stroke-width="1.7" />
<line x1="105.90" y1="250.70" x2="105.90" y2="256.40" stroke="#1a1a1a" stroke-width="1.5" />
<line x1="102.00" y1="250.70" x2="109.80" y2="250.70" stroke="#1a1a1a" stroke-width="1.35" />
<line x1="102.00" y1="256.40" x2="109.80" y2="256.40" stroke="#1a1a1a" stroke-width="1.35" />
<line x1="135.00" y1="254.40" x2="135.00" y2="266.70" stroke="#1a1a1a" stroke-width="2.1" />
<line x1="131.00" y1="254.40" x2="139.00" y2="254.40" stroke="#1a1a1a" stroke-width="1.7" />
<line x1="131.00" y1="266.70" x2="139.00" y2="266.70" stroke="#1a1a1a" stroke-width="1.7" />
<line x1="147.10" y1="256.80" x2="147.10" y2="263.90" stroke="#1a1a1a" stroke-width="1.5" />
<line x1="143.20" y1="256.80" x2="151.00" y2="256.80" stroke="#1a1a1a" stroke-width="1.35" />
<line x1="143.20" y1="263.90" x2="151.00" y2="263.90" stroke="#1a1a1a" stroke-width="1.35" />
<line x1="52.80" y1="292.00" x2="52.80" y2="312.90" stroke="#1a1a1a" stroke-width="2.1" />
<line x1="48.80" y1="292.00" x2="56.80" y2="292.00" stroke="#1a1a1a" stroke-width="1.7" />
<line x1="48.80" y1="312.90" x2="56.80" y2="312.90" stroke="#1a1a1a" stroke-width="1.7" />
<line x1="64.40" y1="290.30" x2="64.40" y2="314.50" stroke="#1a1a1a" stroke-width="1.5" />
<line x1="60.50" y1="290.30" x2="68.30" y2="290.30" stroke="#1a1a1a" stroke-width="1.35" />
<line x1="60.50" y1="314.50" x2="68.30" y2="314.50" stroke="#1a1a1a" stroke-width="1.35" />
<line x1="93.80" y1="322.60" x2="93.80" y2="344.00" stroke="#1a1a1a" stroke-width="2.1" />
<line x1="89.80" y1="322.60" x2="97.80" y2="322.60" stroke="#1a1a1a" stroke-width="1.7" />
<line x1="89.80" y1="344.00" x2="97.80" y2="344.00" stroke="#1a1a1a" stroke-width="1.7" />
<line x1="105.90" y1="312.90" x2="105.90" y2="337.10" stroke="#1a1a1a" stroke-width="1.5" />
<line x1="102.00" y1="312.90" x2="109.80" y2="312.90" stroke="#1a1a1a" stroke-width="1.35" />
<line x1="102.00" y1="337.10" x2="109.80" y2="337.10" stroke="#1a1a1a" stroke-width="1.35" />
<line x1="135.00" y1="293.40" x2="135.00" y2="314.50" stroke="#1a1a1a" stroke-width="2.1" />
<line x1="131.00" y1="293.40" x2="139.00" y2="293.40" stroke="#1a1a1a" stroke-width="1.7" />
<line x1="131.00" y1="314.50" x2="139.00" y2="314.50" stroke="#1a1a1a" stroke-width="1.7" />
<line x1="147.10" y1="293.00" x2="147.10" y2="313.70" stroke="#1a1a1a" stroke-width="1.5" />
<line x1="143.20" y1="293.00" x2="151.00" y2="293.00" stroke="#1a1a1a" stroke-width="1.35" />
<line x1="143.20" y1="313.70" x2="151.00" y2="313.70" stroke="#1a1a1a" stroke-width="1.35" />
<line x1="32.50" y1="242.40" x2="166.60" y2="242.40" stroke="#4a4a4a" stroke-width="1" />
<line x1="32.50" y1="376.40" x2="166.60" y2="376.40" stroke="#4a4a4a" stroke-width="1" />
<rect x="32.50" y="228.60" width="134.10" height="161.30" fill="none" stroke="#4a4a4a" stroke-width="1"/>
<text x="29.50" y="381.00" font-size="13.0" text-anchor="end" font-weight="normal" font-style="normal" fill="#111" >0</text>
<text x="174.30" y="380.60" font-size="13.0" text-anchor="middle" font-weight="normal" font-style="normal" fill="#111" >1</text>
<line x1="32.50" y1="349.60" x2="34.50" y2="349.60" stroke="#4a4a4a" stroke-width="1" />
<line x1="164.60" y1="349.60" x2="166.60" y2="349.60" stroke="#4a4a4a" stroke-width="1" />
<text x="29.50" y="354.20" font-size="13.0" text-anchor="end" font-weight="normal" font-style="normal" fill="#111" >.2</text>
<text x="174.30" y="353.80" font-size="13.0" text-anchor="middle" font-weight="normal" font-style="normal" fill="#111" >.8</text>
<line x1="32.50" y1="322.80" x2="34.50" y2="322.80" stroke="#4a4a4a" stroke-width="1" />
<line x1="164.60" y1="322.80" x2="166.60" y2="322.80" stroke="#4a4a4a" stroke-width="1" />
<text x="29.50" y="327.40" font-size="13.0" text-anchor="end" font-weight="normal" font-style="normal" fill="#111" >.4</text>
<text x="174.30" y="327.00" font-size="13.0" text-anchor="middle" font-weight="normal" font-style="normal" fill="#111" >.6</text>
<line x1="32.50" y1="296.00" x2="34.50" y2="296.00" stroke="#4a4a4a" stroke-width="1" />
<line x1="164.60" y1="296.00" x2="166.60" y2="296.00" stroke="#4a4a4a" stroke-width="1" />
<text x="29.50" y="300.60" font-size="13.0" text-anchor="end" font-weight="normal" font-style="normal" fill="#111" >.6</text>
<text x="174.30" y="300.20" font-size="13.0" text-anchor="middle" font-weight="normal" font-style="normal" fill="#111" >.4</text>
<line x1="32.50" y1="269.20" x2="34.50" y2="269.20" stroke="#4a4a4a" stroke-width="1" />
<line x1="164.60" y1="269.20" x2="166.60" y2="269.20" stroke="#4a4a4a" stroke-width="1" />
<text x="29.50" y="273.80" font-size="13.0" text-anchor="end" font-weight="normal" font-style="normal" fill="#111" >.8</text>
<text x="174.30" y="273.40" font-size="13.0" text-anchor="middle" font-weight="normal" font-style="normal" fill="#111" >.2</text>
<text x="29.50" y="247.00" font-size="13.0" text-anchor="end" font-weight="normal" font-style="normal" fill="#111" >1</text>
<text x="174.30" y="246.60" font-size="13.0" text-anchor="middle" font-weight="normal" font-style="normal" fill="#111" >0</text>
<text x="14.00" y="380.40" font-size="14.8" text-anchor="start" font-weight="normal" font-style="normal" fill="#111" transform="rotate(-90 14.00 380.40)" >Bias to the cursor</text>
<text x="183.00" y="237.80" font-size="15.0" text-anchor="start" font-weight="normal" font-style="normal" fill="#111" transform="rotate(90 183.00 237.80)" >Bias to the hand</text>
<rect x="255.00" y="336.60" width="13.90" height="53.20" fill="#555555" stroke="#202020" stroke-width="1.0"/>
<rect x="268.90" y="337.70" width="12.20" height="52.10" fill="#ffffff" stroke="#444444" stroke-width="1.0"/>
<rect x="290.70" y="281.50" width="13.90" height="108.30" fill="#898989" stroke="#343434" stroke-width="1.0"/>
<rect x="304.60" y="345.00" width="11.80" height="44.80" fill="#ffffff" stroke="#444444" stroke-width="1.0"/>
<rect x="326.00" y="329.30" width="13.90" height="60.50" fill="#cccccc" stroke="#555555" stroke-width="1.0"/>
<rect x="339.90" y="340.60" width="12.10" height="49.20" fill="#ffffff" stroke="#444444" stroke-width="1.0"/>
<line x1="262.00" y1="318.70" x2="262.00" y2="353.20" stroke="#303030" stroke-width="2.3" />
<line x1="258.40" y1="318.70" x2="265.60" y2="318.70" stroke="#303030" stroke-width="2.001" />
<line x1="258.40" y1="353.20" x2="265.60" y2="353.20" stroke="#303030" stroke-width="2.001" />
<line x1="274.20" y1="327.90" x2="274.20" y2="346.60" stroke="#303030" stroke-width="2.3" />
<line x1="270.60" y1="327.90" x2="277.80" y2="327.90" stroke="#303030" stroke-width="2.001" />
<line x1="270.60" y1="346.60" x2="277.80" y2="346.60" stroke="#303030" stroke-width="2.001" />
<line x1="297.30" y1="261.00" x2="297.30" y2="301.40" stroke="#303030" stroke-width="2.3" />
<line x1="293.70" y1="261.00" x2="300.90" y2="261.00" stroke="#303030" stroke-width="2.001" />
<line x1="293.70" y1="301.40" x2="300.90" y2="301.40" stroke="#303030" stroke-width="2.001" />
<line x1="309.40" y1="339.20" x2="309.40" y2="349.90" stroke="#303030" stroke-width="2.3" />
<line x1="305.80" y1="339.20" x2="313.00" y2="339.20" stroke="#303030" stroke-width="2.001" />
<line x1="305.80" y1="349.90" x2="313.00" y2="349.90" stroke="#303030" stroke-width="2.001" />
<line x1="332.90" y1="309.90" x2="332.90" y2="348.40" stroke="#303030" stroke-width="2.3" />
<line x1="329.30" y1="309.90" x2="336.50" y2="309.90" stroke="#303030" stroke-width="2.001" />
<line x1="329.30" y1="348.40" x2="336.50" y2="348.40" stroke="#303030" stroke-width="2.001" />
<line x1="345.80" y1="333.40" x2="345.80" y2="347.00" stroke="#303030" stroke-width="2.3" />
<line x1="342.20" y1="333.40" x2="349.40" y2="333.40" stroke="#303030" stroke-width="2.001" />
<line x1="342.20" y1="347.00" x2="349.40" y2="347.00" stroke="#303030" stroke-width="2.001" />
<rect x="247.50" y="228.60" width="114.10" height="161.20" fill="none" stroke="#4a4a4a" stroke-width="1"/>
<text x="246.40" y="394.30" font-size="13.0" text-anchor="end" font-weight="normal" font-style="normal" fill="#111" >0</text>
<line x1="247.50" y1="353.90" x2="249.50" y2="353.90" stroke="#4a4a4a" stroke-width="1" />
<line x1="359.60" y1="353.90" x2="361.60" y2="353.90" stroke="#4a4a4a" stroke-width="1" />
<text x="245.10" y="358.60" font-size="13.0" text-anchor="end" font-weight="normal" font-style="normal" fill="#111" >10</text>
<line x1="247.50" y1="318.00" x2="249.50" y2="318.00" stroke="#4a4a4a" stroke-width="1" />
<line x1="359.60" y1="318.00" x2="361.60" y2="318.00" stroke="#4a4a4a" stroke-width="1" />
<text x="245.10" y="322.70" font-size="13.0" text-anchor="end" font-weight="normal" font-style="normal" fill="#111" >20</text>
<line x1="247.50" y1="282.10" x2="249.50" y2="282.10" stroke="#4a4a4a" stroke-width="1" />
<line x1="359.60" y1="282.10" x2="361.60" y2="282.10" stroke="#4a4a4a" stroke-width="1" />
<text x="245.10" y="286.80" font-size="13.0" text-anchor="end" font-weight="normal" font-style="normal" fill="#111" >30</text>
<line x1="247.50" y1="246.20" x2="249.50" y2="246.20" stroke="#4a4a4a" stroke-width="1" />
<line x1="359.60" y1="246.20" x2="361.60" y2="246.20" stroke="#4a4a4a" stroke-width="1" />
<text x="245.10" y="250.90" font-size="13.0" text-anchor="end" font-weight="normal" font-style="normal" fill="#111" >40</text>
<text x="224.60" y="369.80" font-size="14.65" text-anchor="start" fill="#111" transform="rotate(-90 224.60 369.80)">Coupling angle (<tspan font-size="12.5" dy="-6.4" dx="1.0">o</tspan><tspan dy="6.4" dx="1.25">)</tspan></text>
<rect x="415.80" y="320.90" width="14.80" height="68.90" fill="#555555" stroke="#202020" stroke-width="1.0"/>
<rect x="430.60" y="339.80" width="12.30" height="50.00" fill="#ffffff" stroke="#444444" stroke-width="1.0"/>
<rect x="452.50" y="320.10" width="14.20" height="69.70" fill="#898989" stroke="#343434" stroke-width="1.0"/>
<rect x="466.70" y="341.90" width="12.40" height="47.90" fill="#ffffff" stroke="#444444" stroke-width="1.0"/>
<rect x="488.90" y="312.10" width="14.30" height="77.70" fill="#cccccc" stroke="#555555" stroke-width="1.0"/>
<rect x="503.20" y="335.80" width="12.30" height="54.00" fill="#ffffff" stroke="#444444" stroke-width="1.0"/>
<rect x="543.40" y="297.90" width="14.30" height="91.90" fill="#555555" stroke="#202020" stroke-width="1.0"/>
<rect x="557.70" y="326.30" width="12.30" height="63.50" fill="#ffffff" stroke="#444444" stroke-width="1.0"/>
<rect x="580.00" y="282.50" width="14.00" height="107.30" fill="#898989" stroke="#343434" stroke-width="1.0"/>
<rect x="594.00" y="304.80" width="12.60" height="85.00" fill="#ffffff" stroke="#444444" stroke-width="1.0"/>
<rect x="615.90" y="282.90" width="14.70" height="106.90" fill="#cccccc" stroke="#555555" stroke-width="1.0"/>
<rect x="630.60" y="310.90" width="12.20" height="78.90" fill="#ffffff" stroke="#444444" stroke-width="1.0"/>
<line x1="423.40" y1="313.90" x2="423.40" y2="327.20" stroke="#303030" stroke-width="2.3" />
<line x1="419.40" y1="313.90" x2="427.40" y2="313.90" stroke="#303030" stroke-width="2.001" />
<line x1="419.40" y1="327.20" x2="427.40" y2="327.20" stroke="#303030" stroke-width="2.001" />
<line x1="436.20" y1="335.70" x2="436.20" y2="343.40" stroke="#303030" stroke-width="2.3" />
<line x1="432.20" y1="335.70" x2="440.20" y2="335.70" stroke="#303030" stroke-width="2.001" />
<line x1="432.20" y1="343.40" x2="440.20" y2="343.40" stroke="#303030" stroke-width="2.001" />
<line x1="460.90" y1="314.50" x2="460.90" y2="324.80" stroke="#303030" stroke-width="2.3" />
<line x1="456.90" y1="314.50" x2="464.90" y2="314.50" stroke="#303030" stroke-width="2.001" />
<line x1="456.90" y1="324.80" x2="464.90" y2="324.80" stroke="#303030" stroke-width="2.001" />
<line x1="472.00" y1="338.70" x2="472.00" y2="344.80" stroke="#303030" stroke-width="2.3" />
<line x1="468.00" y1="338.70" x2="476.00" y2="338.70" stroke="#303030" stroke-width="2.001" />
<line x1="468.00" y1="344.80" x2="476.00" y2="344.80" stroke="#303030" stroke-width="2.001" />
<line x1="496.20" y1="305.40" x2="496.20" y2="317.70" stroke="#303030" stroke-width="2.3" />
<line x1="492.20" y1="305.40" x2="500.20" y2="305.40" stroke="#303030" stroke-width="2.001" />
<line x1="492.20" y1="317.70" x2="500.20" y2="317.70" stroke="#303030" stroke-width="2.001" />
<line x1="508.50" y1="330.70" x2="508.50" y2="340.80" stroke="#303030" stroke-width="2.3" />
<line x1="504.50" y1="330.70" x2="512.50" y2="330.70" stroke="#303030" stroke-width="2.001" />
<line x1="504.50" y1="340.80" x2="512.50" y2="340.80" stroke="#303030" stroke-width="2.001" />
<line x1="550.50" y1="290.10" x2="550.50" y2="304.10" stroke="#303030" stroke-width="2.3" />
<line x1="546.50" y1="290.10" x2="554.50" y2="290.10" stroke="#303030" stroke-width="2.001" />
<line x1="546.50" y1="304.10" x2="554.50" y2="304.10" stroke="#303030" stroke-width="2.001" />
<line x1="563.20" y1="318.80" x2="563.20" y2="332.90" stroke="#303030" stroke-width="2.3" />
<line x1="559.20" y1="318.80" x2="567.20" y2="318.80" stroke="#303030" stroke-width="2.001" />
<line x1="559.20" y1="332.90" x2="567.20" y2="332.90" stroke="#303030" stroke-width="2.001" />
<line x1="586.80" y1="273.30" x2="586.80" y2="291.50" stroke="#303030" stroke-width="2.3" />
<line x1="582.80" y1="273.30" x2="590.80" y2="273.30" stroke="#303030" stroke-width="2.001" />
<line x1="582.80" y1="291.50" x2="590.80" y2="291.50" stroke="#303030" stroke-width="2.001" />
<line x1="600.10" y1="295.60" x2="600.10" y2="313.40" stroke="#303030" stroke-width="2.3" />
<line x1="596.10" y1="295.60" x2="604.10" y2="295.60" stroke="#303030" stroke-width="2.001" />
<line x1="596.10" y1="313.40" x2="604.10" y2="313.40" stroke="#303030" stroke-width="2.001" />
<line x1="623.00" y1="276.10" x2="623.00" y2="289.40" stroke="#303030" stroke-width="2.3" />
<line x1="619.00" y1="276.10" x2="627.00" y2="276.10" stroke="#303030" stroke-width="2.001" />
<line x1="619.00" y1="289.40" x2="627.00" y2="289.40" stroke="#303030" stroke-width="2.001" />
<line x1="637.00" y1="303.10" x2="637.00" y2="317.80" stroke="#303030" stroke-width="2.3" />
<line x1="633.00" y1="303.10" x2="641.00" y2="303.10" stroke="#303030" stroke-width="2.001" />
<line x1="633.00" y1="317.80" x2="641.00" y2="317.80" stroke="#303030" stroke-width="2.001" />
<rect x="404.50" y="228.60" width="254.90" height="161.20" fill="none" stroke="#4a4a4a" stroke-width="1"/>
<text x="401.50" y="393.70" font-size="13.0" text-anchor="end" font-weight="normal" font-style="normal" fill="#111" >0</text>
<line x1="404.50" y1="362.93" x2="406.50" y2="362.93" stroke="#4a4a4a" stroke-width="1" />
<line x1="657.40" y1="362.93" x2="659.40" y2="362.93" stroke="#4a4a4a" stroke-width="1" />
<text x="402.10" y="367.63" font-size="13.0" text-anchor="end" font-weight="normal" font-style="normal" fill="#111" >2</text>
<line x1="404.50" y1="336.07" x2="406.50" y2="336.07" stroke="#4a4a4a" stroke-width="1" />
<line x1="657.40" y1="336.07" x2="659.40" y2="336.07" stroke="#4a4a4a" stroke-width="1" />
<text x="402.10" y="340.77" font-size="13.0" text-anchor="end" font-weight="normal" font-style="normal" fill="#111" >4</text>
<line x1="404.50" y1="309.20" x2="406.50" y2="309.20" stroke="#4a4a4a" stroke-width="1" />
<line x1="657.40" y1="309.20" x2="659.40" y2="309.20" stroke="#4a4a4a" stroke-width="1" />
<text x="402.10" y="313.90" font-size="13.0" text-anchor="end" font-weight="normal" font-style="normal" fill="#111" >6</text>
<line x1="404.50" y1="282.33" x2="406.50" y2="282.33" stroke="#4a4a4a" stroke-width="1" />
<line x1="657.40" y1="282.33" x2="659.40" y2="282.33" stroke="#4a4a4a" stroke-width="1" />
<text x="402.10" y="287.03" font-size="13.0" text-anchor="end" font-weight="normal" font-style="normal" fill="#111" >8</text>
<line x1="404.50" y1="255.47" x2="406.50" y2="255.47" stroke="#4a4a4a" stroke-width="1" />
<line x1="657.40" y1="255.47" x2="659.40" y2="255.47" stroke="#4a4a4a" stroke-width="1" />
<text x="402.10" y="260.17" font-size="13.0" text-anchor="end" font-weight="normal" font-style="normal" fill="#111" >10</text>
<line x1="460.00" y1="228.60" x2="460.00" y2="230.60" stroke="#4a4a4a" stroke-width="1" />
<line x1="587.00" y1="228.60" x2="587.00" y2="230.60" stroke="#4a4a4a" stroke-width="1" />
<text x="464.80" y="262.00" font-size="13.6" text-anchor="middle" font-weight="normal" font-style="italic" fill="#111" >BiCursor</text>
<text x="592.10" y="262.00" font-size="13.6" text-anchor="middle" font-weight="normal" font-style="italic" fill="#111" >BiHand</text>
<text x="385.20" y="353.10" font-size="15.15" text-anchor="start" fill="#111" transform="rotate(-90 385.20 353.10)">Variability (<tspan font-size="12.5" dy="-6.6" dx="-0.8">o</tspan><tspan dy="6.6" dx="1.0">)</tspan></text>
</svg>
</body></html>
